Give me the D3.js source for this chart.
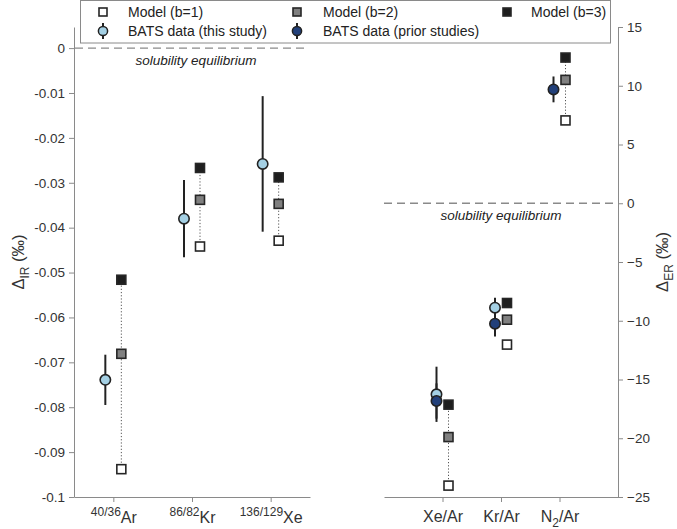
<!DOCTYPE html>
<html><head><meta charset="utf-8">
<script src="https://cdn.jsdelivr.net/npm/d3@7"></script>
<style>
body{margin:0;background:#fff;}
svg{display:block;font-family:"Liberation Sans",Arial,sans-serif;}
</style></head>
<body><svg id="c" width="677" height="529"></svg>
<script>
// ---- data ----
const leftSup = ["40/36", "86/82", "136/129"];
const leftBase = ["Ar", "Kr", "Xe"];
const leftBats = [-0.0739, -0.0380, -0.0258];
const leftBatsErr = [0.0056, 0.0086, 0.0151];
const leftB1 = [-0.0938, -0.0442, -0.0429];
const leftB2 = [-0.0681, -0.0338, -0.0347];
const leftB3 = [-0.0516, -0.0267, -0.0288];
const leftTicks = [0, -0.01, -0.02, -0.03, -0.04, -0.05, -0.06, -0.07, -0.08, -0.09, -0.1];

const rightCats = ["Xe/Ar", "Kr/Ar", "N2/Ar"];
const rightThis = [-16.26, -8.89, null];
const rightThisErr = [2.35, 0.85, null];
const rightPrior = [-16.83, -10.25, 9.69];
const rightPriorErr = [1.5, 1.08, 1.1];
const rightB1 = [-24.03, -12.03, 7.05];
const rightB2 = [-19.9, -9.91, 10.5];
const rightB3 = [-17.14, -8.49, 12.4];
const rightDotted = [true, false, true];
const rightTicks = [15, 10, 5, 0, -5, -10, -15, -20, -25];

const C = {b1:"#ffffff", b2:"#808080", b3:"#1e1e1e", edge:"#262626", light:"#a4d0e4", dark:"#22407a", axis:"#8a8a8a", text:"#333"};

const svg = d3.select("#c");
const plotTop = 27, plotBot = 497;

// ---- scales ----
const xL = d3.scalePoint().domain([0,1,2]).range([74, 310]).padding(0.5);
const yL = d3.scaleLinear().domain([-0.1, 0.0047]).range([plotBot, plotTop]);
const xR = d3.scalePoint().domain([0,1,2]).range([384, 618]).padding(1);
const yR = d3.scaleLinear().domain([-25, 15]).range([plotBot, plotTop]);

function styleAxis(g){
  g.select(".domain").attr("stroke", C.axis).attr("stroke-width", 1);
  g.selectAll(".tick line").attr("stroke", C.axis);
  g.selectAll(".tick text").attr("fill", C.text).style("font-size","13.5px").style("font-family","Liberation Sans, Arial, sans-serif");
}

// left y axis
const gYL = svg.append("g").attr("transform", `translate(74,0)`)
  .call(d3.axisLeft(yL).tickValues(leftTicks).tickSize(5).tickPadding(4).tickSizeOuter(0)
    .tickFormat(d => d === 0 ? "0" : String(+d.toFixed(2))));
styleAxis(gYL);
// left x axis
const gXL = svg.append("g").attr("transform", `translate(0,${plotBot})`)
  .call(d3.axisBottom(xL).tickSize(5).tickSizeOuter(0).tickFormat(""));
styleAxis(gXL);
gXL.selectAll(".tick").each(function(d){
  const t = d3.select(this).append("text").attr("y", 26).attr("fill", C.text)
    .attr("text-anchor","middle").style("font-size","16px");
  t.append("tspan").attr("dy", -7).style("font-size","12px").text(leftSup[d]);
  t.append("tspan").attr("dy", 7).text(leftBase[d]);
});

// right y axis
const gYR = svg.append("g").attr("transform", `translate(618,0)`)
  .call(d3.axisRight(yR).tickValues(rightTicks).tickSize(5).tickPadding(4).tickSizeOuter(0));
styleAxis(gYR);
const gXR = svg.append("g").attr("transform", `translate(0,${plotBot})`)
  .call(d3.axisBottom(xR).tickSize(5).tickSizeOuter(0).tickFormat(""));
styleAxis(gXR);
gXR.selectAll(".tick").each(function(d){
  const t = d3.select(this).append("text").attr("y", 25).attr("fill", C.text)
    .attr("text-anchor","middle").style("font-size","16px");
  const lab = rightCats[d];
  if (lab.startsWith("N2")) {
    t.append("tspan").text("N");
    t.append("tspan").attr("dy", 5).style("font-size","12px").text("2");
    t.append("tspan").attr("dy", -5).text("/Ar");
  } else t.text(lab);
});

// axis titles
function axTitle(x, sub){
  const t = svg.append("text").attr("transform", `translate(${x},262) rotate(-90)`)
    .attr("text-anchor","middle").attr("fill", C.text).style("font-size","16.5px");
  t.append("tspan").text("\u0394");
  t.append("tspan").attr("dy", 5).style("font-size","12px").text(sub);
  t.append("tspan").attr("dy", -5).text(" (\u2030)");
}
axTitle(24, "IR");
axTitle(668, "ER");

// solubility equilibrium lines
svg.append("line").attr("x1", 75).attr("x2", 308).attr("y1", yL(0)).attr("y2", yL(0))
  .attr("stroke", "#8a8a8a").attr("stroke-width", 1.3).attr("stroke-dasharray", "8,5");
svg.append("text").attr("x", 196).attr("y", yL(0) + 17).attr("text-anchor","middle")
  .attr("fill","#222").style("font-style","italic").style("font-size","13.5px").text("solubility equilibrium");
svg.append("line").attr("x1", 384).attr("x2", 618).attr("y1", yR(0)).attr("y2", yR(0))
  .attr("stroke", "#8a8a8a").attr("stroke-width", 1.3).attr("stroke-dasharray", "8,5");
svg.append("text").attr("x", 501).attr("y", yR(0) + 17).attr("text-anchor","middle")
  .attr("fill","#222").style("font-style","italic").style("font-size","13.5px").text("solubility equilibrium");

// ---- marks ----
function squares(g, xs, ys, vals, fill, off){
  vals.forEach((v,i)=>{
    if (v == null) return;
    g.append("rect").attr("x", xs(i)+off-4.5).attr("y", ys(v)-4.5).attr("width", 9).attr("height", 9)
      .attr("fill", fill).attr("stroke", C.edge).attr("stroke-width", 1.6);
  });
}

function panel(xs, ys, bats, batsErr, b1, b2, b3, dotted, boff, moff, prior, priorErr){
  const g = svg.append("g");
  b1.forEach((v,i)=>{
    if (!dotted[i]) return;
    g.append("line").attr("x1", xs(i)+moff).attr("x2", xs(i)+moff)
      .attr("y1", ys(b1[i])).attr("y2", ys(b3[i]))
      .attr("stroke", "#555").attr("stroke-width", 1).attr("stroke-dasharray", "1.2,2");
  });
  squares(g, xs, ys, b1, C.b1, moff);
  squares(g, xs, ys, b2, C.b2, moff);
  squares(g, xs, ys, b3, C.b3, moff);
  const series = [[bats, batsErr, C.light]];
  if (prior) series.push([prior, priorErr, C.dark]);
  series.forEach(([vals, errs]) => vals.forEach((v,i)=>{
    if (v == null) return;
    g.append("line").attr("x1", xs(i)+boff).attr("x2", xs(i)+boff)
      .attr("y1", ys(v-errs[i])).attr("y2", ys(v+errs[i]))
      .attr("stroke", "#222").attr("stroke-width", 2);
  }));
  series.forEach(([vals, errs, col]) => vals.forEach((v,i)=>{
    if (v == null) return;
    g.append("circle").attr("cx", xs(i)+boff).attr("cy", ys(v)).attr("r", 5.2)
      .attr("fill", col).attr("stroke", "#222").attr("stroke-width", 1.6);
  }));
}
panel(xL, yL, leftBats, leftBatsErr, leftB1, leftB2, leftB3, [true,true,true], -8, 8);
panel(xR, yR, rightThis, rightThisErr, rightB1, rightB2, rightB3, rightDotted, -6, 6, rightPrior, rightPriorErr);

// ---- legend ----
const lg = svg.append("g");
lg.append("rect").attr("x", 80.5).attr("y", 0.5).attr("width", 530).attr("height", 42.5)
  .attr("fill", "#fff").attr("stroke", "#8a8a8a").attr("stroke-width", 1);
const legItems = [
  {type:"sq", fill:C.b1, label:"Model (b=1)", mx:103, tx:128, y:12},
  {type:"sq", fill:C.b2, label:"Model (b=2)", mx:297, tx:323, y:12},
  {type:"sq", fill:C.b3, label:"Model (b=3)", mx:507, tx:531, y:12},
  {type:"ci", fill:C.light, label:"BATS data (this study)", mx:103, tx:128, y:31},
  {type:"ci", fill:C.dark, label:"BATS data (prior studies)", mx:297, tx:323, y:31}
];
legItems.forEach(d=>{
  if (d.type === "sq") {
    lg.append("rect").attr("x", d.mx-4).attr("y", d.y-4).attr("width", 8).attr("height", 8)
      .attr("fill", d.fill).attr("stroke", C.edge).attr("stroke-width", 1.6);
  } else {
    lg.append("line").attr("x1", d.mx).attr("x2", d.mx).attr("y1", d.y-8).attr("y2", d.y+8)
      .attr("stroke", "#222").attr("stroke-width", 2);
    lg.append("circle").attr("cx", d.mx).attr("cy", d.y).attr("r", 4.6)
      .attr("fill", d.fill).attr("stroke", "#222").attr("stroke-width", 1.5);
  }
  lg.append("text").attr("x", d.tx).attr("y", d.y + 5).attr("fill", "#222")
    .style("font-size","14px").text(d.label);
});
</script></body></html>
